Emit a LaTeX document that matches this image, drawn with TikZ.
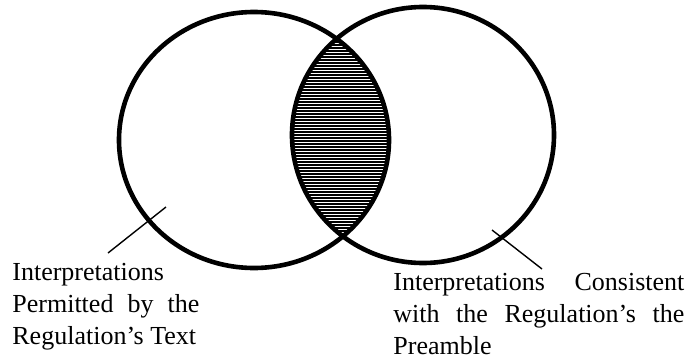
\documentclass[tikz,border=0pt]{standalone}
\usepackage{fontspec}
\setmainfont{Liberation Serif}
\usetikzlibrary{positioning}

\begin{document}
\begin{tikzpicture}[x=0.5pt, y=-0.5pt,
    every node/.style={font=\fontsize{13}{16}\selectfont, inner sep=0pt,
      align=justify, anchor=north west},
    setring/.style={line width=2.3pt},
    hatch/.style={line width=0.75pt},
    pointer/.style={line width=0.7pt}
  ]
    \useasboundingbox (0,0) rectangle (687,359);
    % Sets
    \coordinate (ctl) at (254,140);
    \coordinate (ctr) at (423,135);
    % Overlap
    \begin{scope}
      \clip (ctl) ellipse [x radius=135, y radius=128];
      \clip (ctr) ellipse [x radius=131, y radius=128];
      \foreach \y in {30,33,...,250}
        \draw[hatch] (280,\y) -- (400,\y);
    \end{scope}
    \draw[setring] (ctl) ellipse [x radius=135, y radius=128];
    \draw[setring] (ctr) ellipse [x radius=131, y radius=128];
    % Labels
    \node[text width=93.5pt] (txt) at (12,263)
      {Interpretations\linebreak Permitted by the\linebreak Regulation’s Text};
    \node[text width=145.5pt] (pre) at (393,273)
      {Interpretations Consistent\linebreak with the Regulation’s the\linebreak Preamble};
    % Pointers
    \coordinate (txtend) at (108,253);
    \coordinate (txttip) at (166,207);
    \coordinate (preend) at (542,269);
    \coordinate (pretip) at (492,230);
    \draw[pointer] (txtend) -- (txttip);
    \draw[pointer] (preend) -- (pretip);
  \end{tikzpicture}
\end{document}
